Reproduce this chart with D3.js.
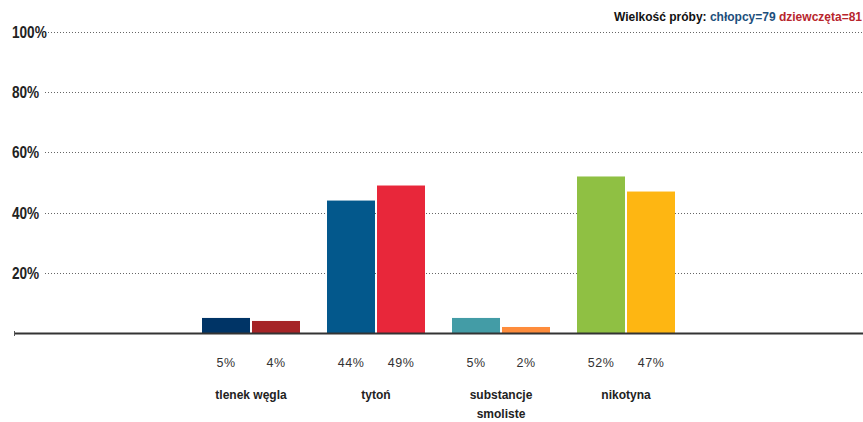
<!DOCTYPE html>
<html><head><meta charset="utf-8">
<script src="https://cdn.jsdelivr.net/npm/d3@7"></script>
<style>body{margin:0;background:#fff}svg{display:block}</style>
</head><body>
<svg id="c" width="863" height="422"></svg>
<script>
const categories = [["tlenek węgla"], ["tytoń"], ["substancje", "smoliste"], ["nikotyna"]];
const boys = [5, 44, 5, 52];
const girls = [4, 49, 2, 47];
const boysColors = ["#003466", "#03588c", "#439ca6", "#8fc043"];
const girlsColors = ["#a52326", "#e8273a", "#fe8c3c", "#feb612"];
const yTicks = [20, 40, 60, 80, 100];

const svg = d3.select("#c");
const y = d3.scaleLinear().domain([0, 100]).range([333, 32]);
const x = d3.scaleBand().domain(d3.range(categories.length)).range([188.5, 688.5]).padding(0);
const sub = d3.scaleBand().domain(["b", "g"]).range([13.5, 111.5]).paddingInner(0.04);

// gridlines
svg.append("g").selectAll("line").data(yTicks).join("line")
  .attr("x1", 45).attr("x2", 863)
  .attr("y1", d => Math.round(y(d)) + 0.5).attr("y2", d => Math.round(y(d)) + 0.5)
  .attr("stroke", "#666").attr("stroke-width", 1).attr("stroke-dasharray", "1,2");

svg.append("g").selectAll("text").data(yTicks).join("text")
  .attr("x", 0).attr("y", d => y(d) + 6)
  .attr("font-family", "'Liberation Sans Narrow', 'Arial Narrow', sans-serif")
  .attr("font-weight", "bold").attr("font-size", 17).attr("fill", "#222")
  .attr("transform", "translate(12,0) scale(0.8,1)")
  .text(d => d + "%");

// bars
const g = svg.append("g");
categories.forEach((c, i) => {
  const x0 = x(i);
  [["b", boys[i], boysColors[i]], ["g", girls[i], girlsColors[i]]].forEach(([k, v, col]) => {
    g.append("rect")
      .attr("x", x0 + sub(k)).attr("width", sub.bandwidth())
      .attr("y", y(v)).attr("height", y(0) - y(v))
      .attr("fill", col);
    g.append("text")
      .attr("x", x0 + sub(k) + sub.bandwidth() / 2).attr("y", 367)
      .attr("text-anchor", "middle")
      .attr("font-family", "'Liberation Sans', Arial, sans-serif")
      .attr("font-size", 12.5).attr("letter-spacing", 0.5).attr("fill", "#333")
      .text(v + "%");
  });
  const t = g.append("text")
    .attr("x", x0 + x.bandwidth() / 2).attr("y", 399)
    .attr("text-anchor", "middle")
    .attr("font-family", "'Liberation Sans', Arial, sans-serif")
    .attr("font-weight", "bold").attr("font-size", 12).attr("fill", "#222");
  c.forEach((line, j) => t.append("tspan").attr("x", x0 + x.bandwidth() / 2).attr("dy", j ? 19 : 0).text(line));
});

// axis baseline
svg.append("line").attr("x1", 14).attr("x2", 863).attr("y1", 333.5).attr("y2", 333.5)
  .attr("stroke", "#333").attr("stroke-width", 2);
svg.append("line").attr("x1", 14.5).attr("x2", 14.5).attr("y1", 331).attr("y2", 336)
  .attr("stroke", "#555").attr("stroke-width", 1);

// header
const h = svg.append("text").attr("x", 862).attr("y", 21).attr("text-anchor", "end")
  .attr("font-family", "'Liberation Sans', Arial, sans-serif")
  .attr("font-weight", "bold").attr("font-size", 12);
h.append("tspan").attr("fill", "#111").text("Wielkość próby: ");
h.append("tspan").attr("fill", "#1d4f7c").text("chłopcy=79 ");
h.append("tspan").attr("fill", "#b8252c").text("dziewczęta=81");
</script>
</body></html>
